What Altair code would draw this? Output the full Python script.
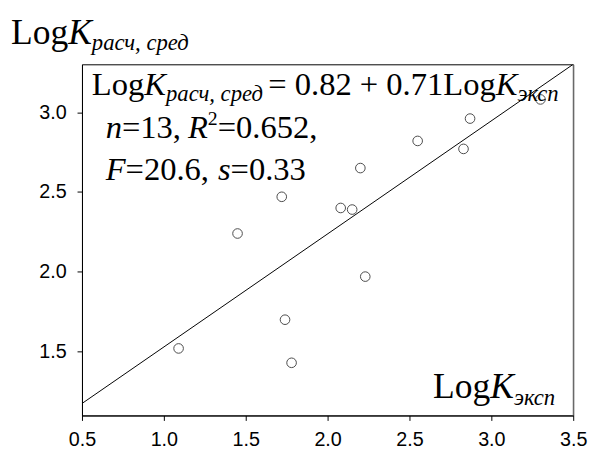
import altair as alt
import pandas as pd

# ---- data ----
x_exp = [1.09, 1.45, 1.72, 1.74, 1.78, 2.08, 2.15, 2.20, 2.23, 2.55, 2.83, 2.87, 3.30]
y_calc = [1.52, 2.24, 2.47, 1.70, 1.43, 2.40, 2.39, 2.65, 1.97, 2.82, 2.77, 2.96, 3.08]
fit_x = [0.5, 3.5]
fit_y = [1.175, 3.30]
x_ticks = [0.5, 1.0, 1.5, 2.0, 2.5, 3.0, 3.5]
y_ticks = [1.5, 2.0, 2.5, 3.0]
x_domain = [0.5, 3.5]
y_domain = [1.1, 3.3]

W, H = 498, 356

# ---- approximate Times glyph widths (em) for laying out rich text runs ----
REG = {'L': .611, 'o': .5, 'g': .5, ' ': .25, '=': .564, '+': .564, '.': .25, ',': .25}
ITA = {'K': .667, 'n': .5, 'R': .611, 'F': .611, 's': .389, 'р': .5, 'а': .5, 'с': .444,
       'ч': .5, ',': .25, ' ': .25, 'е': .444, 'д': .5, 'э': .444, 'к': .444, 'п': .5}


def width(t, italic, size):
    tab = ITA if italic else REG
    return sum(tab.get(c, .5) for c in t) * size


def layout(runs, x0, y0, align_right=False):
    # runs: (text, italic, size, dy, gap_before_px)
    total = sum(width(t, it, s) + g for t, it, s, dy, g in runs)
    x = x0 - total if align_right else x0
    rows = []
    for t, it, s, dy, g in runs:
        x += g
        rows.append({"t": t, "x": x, "y": y0 + dy, "size": s, "italic": it})
        x += width(t, it, s)
    return rows


M, S, T, TS = 33, 23, 36, 23
rows = []
rows += layout([("Log", False, T, 0, 0), ("K", True, T, 0, 0),
                ("расч, сред", True, TS, 7, 0)], -72, -21)
rows += layout([("Log", False, M, 0, 0), ("K", True, M, 0, 0), ("расч, сред", True, S, 6, 0),
                ("= 0.82 + 0.71Log", False, M, 0, 4), ("K", True, M, 0, 0),
                ("эксп", True, S, 6, 0)], 10, 31)
rows += layout([("n", True, M, 0, 0), ("=13,", False, M, 0, 0), ("R", True, M, 0, 7),
                ("2", False, 20, -13, 0), ("=0.652,", False, M, 0, 0)], 24, 75)
rows += layout([("F", True, M, 0, 0), ("=20.6,", False, M, 0, 0), ("s", True, M, 0, 9),
                ("=0.33", False, M, 0, 0)], 24, 117)
rows += layout([("Log", False, T, 0, 0), ("K", True, T, 0, 0), ("эксп", True, TS, 7, 0)],
               480, 338, align_right=True)
txt = pd.DataFrame(rows)

pts = pd.DataFrame({"x": x_exp, "y": y_calc})
fit = pd.DataFrame({"x": fit_x, "y": fit_y})
edge = pd.DataFrame({"x": [x_domain[1]]})

xs = alt.Scale(domain=x_domain, nice=False, zero=False)
ys = alt.Scale(domain=y_domain, nice=False, zero=False)

line = alt.Chart(fit).mark_line(color="black", strokeWidth=1, clip=True).encode(
    x=alt.X("x:Q", scale=xs, axis=alt.Axis(values=x_ticks, format=".1f", labelPadding=9,
                                           labelFlush=False)),
    y=alt.Y("y:Q", scale=ys, axis=alt.Axis(values=y_ticks, format=".1f", labelPadding=11,
                                           labelFlush=False)),
)

points = alt.Chart(pts).mark_point(shape="circle", filled=False, color="black",
                                   size=95, strokeWidth=1).encode(
    x=alt.X("x:Q", scale=xs), y=alt.Y("y:Q", scale=ys))

right_edge = alt.Chart(edge).mark_rule(color="#808080", strokeWidth=1).encode(
    x=alt.X("x:Q", scale=xs))


def text_layer(italic):
    return alt.Chart(txt).transform_filter(
        alt.datum.italic == italic
    ).mark_text(align="left", baseline="alphabetic", font="Liberation Serif",
                fontStyle="italic" if italic else "normal", color="black").encode(
        x=alt.X("x:Q", scale=None),
        y=alt.Y("y:Q", scale=None),
        size=alt.Size("size:Q", scale=None, legend=None),
        text="t:N",
    )


chart = alt.layer(line, points, right_edge, text_layer(False), text_layer(True)).properties(
    width=W, height=H,
    autosize=alt.AutoSizeParams(type="none"),
    padding={"left": 75, "top": 54, "right": 16, "bottom": 38},
).configure_view(stroke="black", strokeWidth=1).configure_axis(
    grid=False, title=None, domainColor="black", tickColor="black", labelColor="black",
    labelFont="Liberation Sans", labelFontSize=20, tickSize=5,
)

chart.save("out.html", embed_options={"renderer": "svg", "actions": False})
